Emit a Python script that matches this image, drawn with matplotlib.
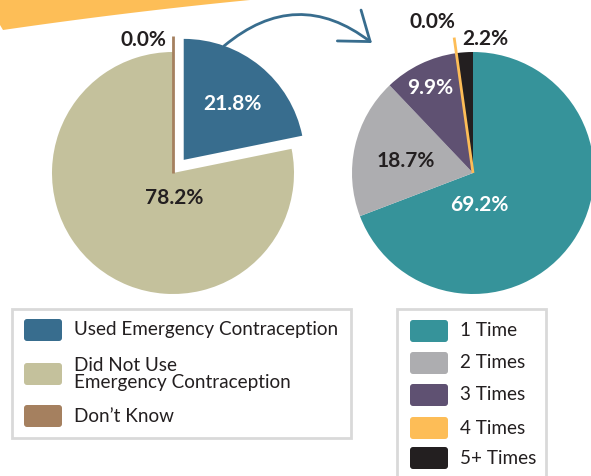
import numpy as np
import matplotlib.pyplot as plt
from matplotlib.patches import FancyBboxPatch, Rectangle, FancyArrowPatch, Polygon

plt.rcParams['font.family'] = ['Lato', 'DejaVu Sans']

# whether emergency contraception was used (%)
use_labels = ['Used Emergency Contraception', 'Did Not Use\nEmergency Contraception', 'Don\u2019t Know']
use_values = [21.8, 78.2, 0.0]
use_colors = ['#386d8e', '#c4c19c', '#a5805f']

# number of times it was used (%)
times_labels = ['1 Time', '2 Times', '3 Times', '4 Times', '5+ Times']
times_values = [69.2, 18.7, 9.9, 0.0, 2.2]
times_colors = ['#36939a', '#adadb0', '#5f5172', '#fdbd57', '#231f20']

DARK = '#231f20'
W, H = 591, 476

fig = plt.figure(figsize=(W / 100, H / 100), dpi=100)
ax = fig.add_axes([0, 0, 1, 1])


def Y(y):
    # pixel rows counted from the top
    return H - y


R = 121
left_c = (173, Y(173))
right_c = (473, Y(173))

# explode is in data units here, so scale it by the radius
ax.pie(use_values, colors=use_colors, startangle=90, counterclock=False,
       center=left_c, radius=R, explode=[0.14 * R, 0, 0],
       wedgeprops=dict(linewidth=0))
ax.pie(times_values, colors=times_colors, startangle=90, counterclock=False,
       center=right_c, radius=R, wedgeprops=dict(linewidth=0))


def zero_lines(values, colors, c):
    # 0% slices are shown as a thin spoke that pokes out of the pie
    cum = np.cumsum([0] + list(values))
    for v, col, start in zip(values, colors, cum[:-1]):
        if v == 0:
            a = np.radians(90 - start / 100 * 360)
            ax.plot([c[0], c[0] + 1.13 * R * np.cos(a)],
                    [c[1], c[1] + 1.13 * R * np.sin(a)],
                    color=col, lw=2, solid_capstyle='butt', zorder=3)


zero_lines(use_values, use_colors, left_c)
zero_lines(times_values, times_colors, right_c)

# value labels
use_pos = [(232, 104), (174, 198), (143, 40)]
use_tc = ['white', DARK, DARK]
for v, (x, y), tc in zip(use_values, use_pos, use_tc):
    ax.text(x, Y(y), f'{v:.1f}%', color=tc, fontsize=15, fontweight='bold',
            ha='center', va='center', zorder=4)

times_pos = [(479, 205), (406, 161), (430, 88), (432, 22), (485, 39)]
times_tc = ['white', DARK, 'white', DARK, DARK]
for v, (x, y), tc in zip(times_values, times_pos, times_tc):
    ax.text(x, Y(y), f'{v:.1f}%', color=tc, fontsize=15, fontweight='bold',
            ha='center', va='center', zorder=4)

# orange brush stroke in the corner
t = np.linspace(0, 1, 30)
bx = 3 + 247 * t
by = 30 - 30 * t - 6 * t * (1 - t)
swoosh = np.column_stack([np.r_[0, bx, 250], Y(np.r_[0, by, 0])])
swoosh = np.vstack([[0, Y(0)], [0, Y(25)], swoosh[1:]])
ax.add_patch(Polygon(swoosh, closed=True, color='#fdbe57', lw=0))

# curved arrow from the "used" slice to the breakdown
ax.add_patch(FancyArrowPatch((224, Y(46)), (372, Y(43)),
                             connectionstyle='arc3,rad=-0.4',
                             arrowstyle='->,head_length=1.9,head_width=1.4',
                             mutation_scale=10, color='#386d8e', lw=2,
                             shrinkA=0, shrinkB=0))


def legend_box(x0, y0, x1, y1, labels, colors, rows, sw_x, txt_x):
    ax.add_patch(Rectangle((x0, Y(y1)), x1 - x0, y1 - y0, fill=False,
                           edgecolor='#d9d9d9', lw=2))
    for lab, col, yc in zip(labels, colors, rows):
        ax.add_patch(FancyBboxPatch((sw_x, Y(yc) - 11), 38, 22,
                                    boxstyle='round,pad=0,rounding_size=3',
                                    color=col, lw=0))
        ax.text(txt_x, Y(yc), lab, fontsize=13.6, color=DARK,
                ha='left', va='center', linespacing=1.0)


legend_box(12, 309, 351, 438, use_labels, use_colors, [330, 374, 416], 24, 74)
legend_box(397, 309, 546, 490, times_labels, times_colors,
           [331, 363, 395, 428, 458], 410, 460)

ax.set_xlim(0, W)
ax.set_ylim(0, H)
ax.set_aspect('equal')
ax.axis('off')

fig.savefig('out.png', dpi=100)
